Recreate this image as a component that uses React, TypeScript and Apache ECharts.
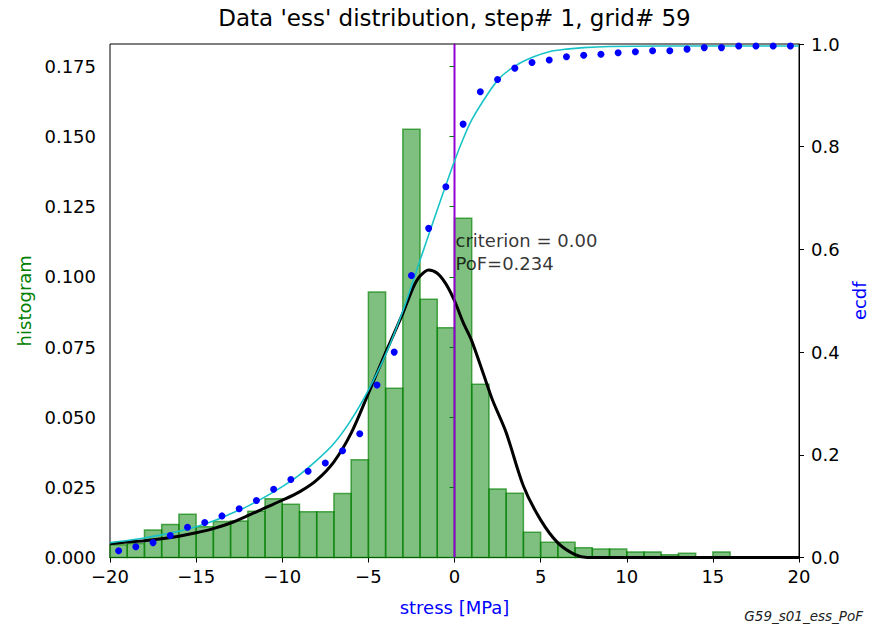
import React, { useEffect, useRef } from "react";
import * as echarts from "echarts";

// histogram bins (width 1), left edges and density values
const binStarts = [-20, -19, -18, -17, -16, -15, -14, -13, -12, -11, -10, -9, -8, -7, -6, -5, -4, -3, -2, -1, 0, 1, 2, 3, 4, 5, 6, 7, 8, 9, 10, 11, 12, 13, 14, 15, 16, 17, 18, 19];
const binValues = [0.0045, 0.005, 0.0098, 0.0118, 0.0154, 0.011, 0.0128, 0.013, 0.0165, 0.0209, 0.019, 0.0163, 0.0163, 0.0228, 0.0348, 0.0946, 0.0603, 0.1526, 0.092, 0.0819, 0.1209, 0.0617, 0.0244, 0.0229, 0.009, 0.0054, 0.0054, 0.0035, 0.003, 0.003, 0.002, 0.002, 0.001, 0.0015, 0, 0.002, 0, 0, 0, 0];

// fitted pdf (black)
const pdfX = [-20, -19, -18, -17, -16, -15, -14, -13, -12, -11, -10, -9, -8, -7, -6, -5, -4, -3, -2.4, -2, -1.5, -1, -0.5, 0, 0.5, 1, 1.7, 2.2, 3, 4, 5, 6, 7, 7.7, 10, 15, 20];
const pdfY = [0.0049, 0.0055, 0.006, 0.0067, 0.0076, 0.0088, 0.0103, 0.0123, 0.0149, 0.0177, 0.0204, 0.0234, 0.0276, 0.0341, 0.0443, 0.0585, 0.073, 0.087, 0.0962, 0.1003, 0.1025, 0.1013, 0.0975, 0.0915, 0.0838, 0.0772, 0.065, 0.0562, 0.0445, 0.0255, 0.0134, 0.0052, 0.001, 0, 0, 0, 0];

// fitted cdf (cyan)
const cdfX = [-20, -19, -18, -17, -16, -15, -14, -13, -12, -11, -10, -9, -8, -7, -6, -5, -4, -3, -2, -1, 0, 0.5, 1, 1.7, 2.6, 3.6, 4.6, 5.5, 6.5, 7.5, 9, 12, 20];
const cdfY = [0.029, 0.033, 0.038, 0.044, 0.051, 0.06, 0.071, 0.085, 0.1, 0.118, 0.138, 0.161, 0.189, 0.222, 0.268, 0.326, 0.395, 0.48, 0.579, 0.677, 0.772, 0.815, 0.852, 0.891, 0.933, 0.959, 0.975, 0.985, 0.99, 0.993, 0.995, 0.996, 0.996];

// empirical cdf (blue dots)
const ecdfX = [-19.5, -18.5, -17.5, -16.5, -15.5, -14.5, -13.5, -12.5, -11.5, -10.5, -9.5, -8.5, -7.5, -6.5, -5.5, -4.5, -3.5, -2.5, -1.5, -0.5, 0.5, 1.5, 2.5, 3.5, 4.5, 5.5, 6.5, 7.5, 8.5, 9.5, 10.5, 11.5, 12.5, 13.5, 14.5, 15.5, 16.5, 17.5, 18.5, 19.5];
const ecdfY = [0.013, 0.021, 0.029, 0.043, 0.059, 0.068, 0.081, 0.095, 0.111, 0.133, 0.152, 0.168, 0.184, 0.208, 0.241, 0.336, 0.4, 0.549, 0.641, 0.722, 0.844, 0.907, 0.931, 0.953, 0.964, 0.969, 0.975, 0.978, 0.98, 0.983, 0.985, 0.987, 0.987, 0.99, 0.993, 0.993, 0.996, 0.996, 0.996, 0.996];

const leftTicks = [0, 0.025, 0.05, 0.075, 0.1, 0.125, 0.15, 0.175];
const criterion = 0;
const annotation = "criterion = 0.00\nPoF=0.234";
const titleText = "Data 'ess' distribution, step# 1, grid# 59";
const footerText = "G59_s01_ess_PoF";

const FONT = "DejaVu Sans";

export default function App() {
  const ref = useRef<HTMLDivElement>(null);
  useEffect(() => {
    if (!ref.current) return;
    const chart = echarts.init(ref.current, undefined, { renderer: "svg" });
    const histData = binStarts.map((s, i) => [s, s + 1, binValues[i]]);
    chart.setOption({
      animation: false,
      backgroundColor: "#fff",
      grid: { left: 110, right: 78, top: 44, bottom: 68.5, show: true, borderColor: "#000", borderWidth: 1 },
      graphic: [
        { type: "text", x: 454.5, y: 18, style: { text: titleText, textAlign: "center", textVerticalAlign: "middle", fontFamily: FONT, fontSize: 23, fill: "#000" } },
        { type: "text", right: 14, top: 609, style: { text: footerText, fontFamily: FONT, fontSize: 13.5, fontStyle: "italic", fill: "#222" } },
      ],
      xAxis: {
        type: "value", min: -20, max: 20, interval: 5,
        name: "stress [MPa]", nameLocation: "middle", nameGap: 41,
        nameTextStyle: { color: "#0000ff", fontFamily: FONT, fontSize: 18 },
        axisLine: { lineStyle: { color: "#000", width: 1 } },
        axisTick: { show: true, length: 5, lineStyle: { color: "#000" } },
        axisLabel: { color: "#000", fontFamily: FONT, fontSize: 18, margin: 10, formatter: (v: number) => String(v).replace("-", "\u2212") },
        splitLine: { show: false },
      },
      yAxis: [
        {
          type: "value", min: 0, max: 0.183, position: "left",
          name: "histogram", nameLocation: "middle", nameGap: 77, nameRotate: 90,
          nameTextStyle: { color: "#008000", fontFamily: FONT, fontSize: 18 },
          axisLine: { show: true, lineStyle: { color: "#000", width: 1 } },
          axisTick: { show: true, length: 5, lineStyle: { color: "#008000" }, customValues: leftTicks },
          axisLabel: { color: "#000", fontFamily: FONT, fontSize: 18, margin: 14, customValues: leftTicks, formatter: (v: number) => v.toFixed(3) },
          splitLine: { show: false },
        },
        {
          type: "value", min: 0, max: 1, interval: 0.2, position: "right",
          name: "ecdf", nameLocation: "middle", nameGap: 51, nameRotate: 90,
          nameTextStyle: { color: "#0000ff", fontFamily: FONT, fontSize: 18 },
          axisLine: { show: true, lineStyle: { color: "#000", width: 1 } },
          axisTick: { show: true, length: 5, lineStyle: { color: "#000" } },
          axisLabel: { color: "#000", fontFamily: FONT, fontSize: 18, margin: 12, formatter: (v: number) => v.toFixed(1) },
          splitLine: { show: false },
        },
      ],
      series: [
        {
          type: "custom",
          name: "histogram",
          xAxisIndex: 0, yAxisIndex: 0,
          data: histData,
          encode: { x: [0, 1], y: 2 },
          renderItem: (params: any, api: any) => {
            const x0 = api.value(0), x1 = api.value(1), h = api.value(2);
            if (!h) return null;
            const p0 = api.coord([x0, h]);
            const p1 = api.coord([x1, 0]);
            return {
              type: "rect",
              shape: { x: p0[0], y: p0[1], width: p1[0] - p0[0], height: p1[1] - p0[1] },
              style: { fill: "rgba(0,128,0,0.5)", stroke: "rgba(0,128,0,0.65)", lineWidth: 1.5 },
            };
          },
          z: 1,
        },
        {
          type: "line", name: "pdf", yAxisIndex: 0,
          data: pdfX.map((x, i) => [x, pdfY[i]]),
          smooth: 0.3, showSymbol: false, symbol: "none",
          lineStyle: { color: "#000", width: 3 }, z: 3,
        },
        {
          type: "line", name: "criterion", yAxisIndex: 0,
          data: [[criterion, 0], [criterion, 0.183]],
          showSymbol: false, symbol: "none",
          lineStyle: { color: "#9400d3", width: 2 }, z: 4,
        },
        {
          type: "line", name: "cdf", yAxisIndex: 1,
          data: cdfX.map((x, i) => [x, cdfY[i]]),
          smooth: 0.3, showSymbol: false, symbol: "none",
          lineStyle: { color: "#17c3c7", width: 1.6 }, z: 5,
        },
        {
          type: "scatter", name: "ecdf", yAxisIndex: 1,
          data: ecdfX.map((x, i) => [x, ecdfY[i]]),
          symbolSize: 7, itemStyle: { color: "#0000ff", opacity: 1 }, z: 6,
        },
        {
          type: "scatter", name: "annotation", yAxisIndex: 0,
          data: [[criterion, 0.109]],
          symbolSize: 0, silent: true,
          label: { show: true, position: "right", distance: 1, formatter: annotation, fontFamily: FONT, fontSize: 18, lineHeight: 23, color: "#000", align: "left" },
          z: 7,
        },
      ],
    });
    return () => chart.dispose();
  }, []);
  return <div ref={ref} style={{ position: "fixed", left: 0, top: 0, width: 877, height: 626 }} />;
}
